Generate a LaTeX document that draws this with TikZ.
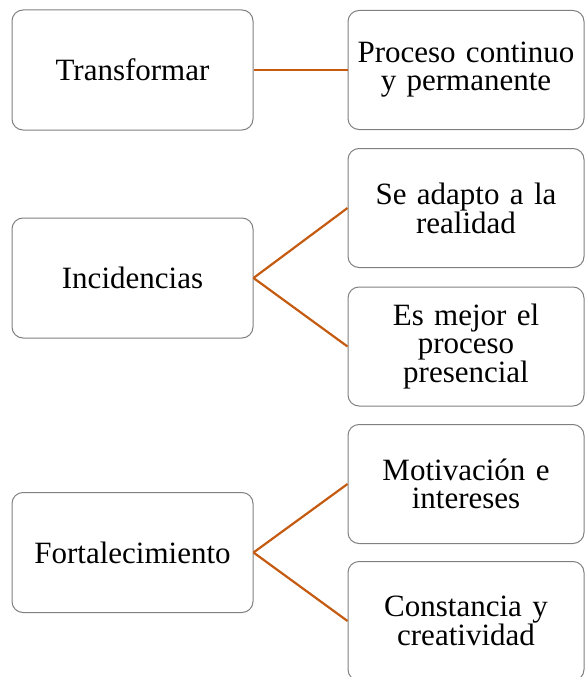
\documentclass[tikz,border=0pt]{standalone}
\usepackage{fontspec}
\setmainfont{Liberation Serif}
\definecolor{linkc}{HTML}{C55A11}
\definecolor{boxc}{HTML}{808080}
\begin{document}
\begin{tikzpicture}[x=1pt,y=-1pt,
  box/.style={draw=boxc, line width=1pt, rounded corners=11pt, fill=white,
    align=center, inner sep=0pt, font=\fontsize{31}{28}\selectfont},
  lbox/.style={box, minimum width=241pt, minimum height=120pt, text width=235pt},
  rbox/.style={box, minimum width=236pt, minimum height=119pt, text width=234pt},
  link/.style={draw=linkc, line width=2.2pt}]
\useasboundingbox (0,0) rectangle (585,677);
\begin{scope}
\clip (0,0) rectangle (585,677);
\node[lbox] (T) at (132.5,70) {Transformar};
\node[rbox] (P) at (466,70) {Proceso continuo\\y permanente};
\node[lbox] (I) at (132.5,278) {Incidencias};
\node[rbox] (S) at (466,208) {Se adapto a la\\realidad};
\node[rbox] (E) at (466,346.5) {Es mejor el\\proceso\\presencial};
\node[lbox] (F) at (132.5,552.5) {Fortalecimiento};
\node[rbox] (M) at (466,484) {Motivación e\\intereses};
\node[rbox] (C) at (466,621) {Constancia y\\creatividad};
\draw[link] (T.east) -- (P.west);
\draw[link] (I.east) -- (S.west);
\draw[link] (I.east) -- (E.west);
\draw[link] (F.east) -- (M.west);
\draw[link] (F.east) -- (C.west);
\end{scope}
\end{tikzpicture}
\end{document}
